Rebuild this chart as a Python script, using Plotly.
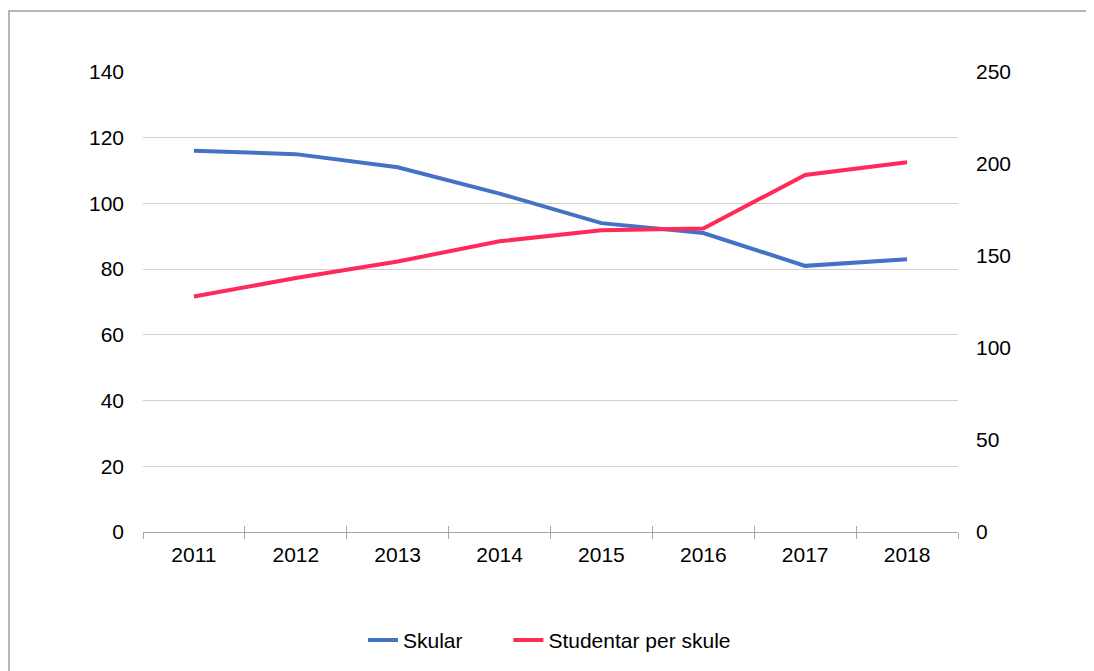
import plotly.graph_objects as go

years = ["2011", "2012", "2013", "2014", "2015", "2016", "2017", "2018"]
skular = [116, 115, 111, 103, 94, 91, 81, 83]
studentar_per_skule = [128, 138, 147, 158, 164, 165, 194, 201]
left_ticks = [0, 20, 40, 60, 80, 100, 120, 140]
right_ticks = [0, 50, 100, 150, 200, 250]

W, H = 1094, 671
ml, mr, mt, mb = 135, 144, 64, 147
FONT = "Liberation Sans, Arial, sans-serif"
PAD = "\u00a0" * 7

fig = go.Figure()
fig.add_trace(go.Scatter(x=years, y=skular, name="Skular" + PAD, mode="lines",
                         line=dict(color="#4472C4", width=4), yaxis="y"))
fig.add_trace(go.Scatter(x=years, y=studentar_per_skule, name="Studentar per skule",
                         mode="lines", line=dict(color="#FF2A5A", width=4), yaxis="y2"))
# invisible helper trace for inner half of cross tick marks
fig.add_trace(go.Scatter(x=years, y=skular, mode="markers", marker=dict(opacity=0),
                         showlegend=False, hoverinfo="skip", xaxis="x2", yaxis="y"))

pw = W - ml - mr
ph = H - mt - mb
x0 = (1 - ml) / pw
y1 = (H - mb - 3) / ph
y0 = (H - mb - 700) / ph
x1 = (1120 - ml) / pw

fig.update_layout(
    width=W, height=H,
    margin=dict(l=ml, r=mr, t=mt, b=mb),
    paper_bgcolor="white", plot_bgcolor="white",
    font=dict(family=FONT, size=21, color="#000000"),
    xaxis=dict(type="category", categoryorder="array", categoryarray=years,
               range=[-0.5, 7.5], showgrid=False, showline=True, linecolor="#a6a6a6",
               linewidth=1.3, ticks="outside", tickson="boundaries", ticklen=6,
               tickcolor="#a6a6a6", tickwidth=1.3, ticklabelstandoff=4, zeroline=False),
    xaxis2=dict(type="category", categoryorder="array", categoryarray=years,
                range=[-0.5, 7.5], overlaying="x", side="bottom", showgrid=False,
                showline=False, ticks="inside", tickson="boundaries", ticklen=6,
                tickcolor="#a6a6a6", tickwidth=1.3, showticklabels=False, zeroline=False),
    yaxis=dict(range=[0, 140], tickvals=left_ticks, showgrid=True, gridcolor="#d0d0d0",
               gridwidth=1.3, zeroline=False, showline=False, ticks="",
               ticklabelstandoff=18),
    yaxis2=dict(range=[0, 250], tickvals=right_ticks, overlaying="y", side="right",
                showgrid=False, zeroline=False, showline=False, ticks="",
                ticklabelstandoff=17),
    legend=dict(orientation="h", x=(359 - 135 - 4) / pw, xanchor="left", y=-0.2355,
                yanchor="middle", font=dict(size=21), traceorder="normal"),
    showlegend=True,
    shapes=[dict(type="rect", xref="paper", yref="paper", x0=x0, x1=x1, y0=y0, y1=y1,
                 line=dict(color="#a0a0a0", width=1.5), fillcolor="rgba(0,0,0,0)",
                 layer="below")],
)

fig.write_html("out.html")
